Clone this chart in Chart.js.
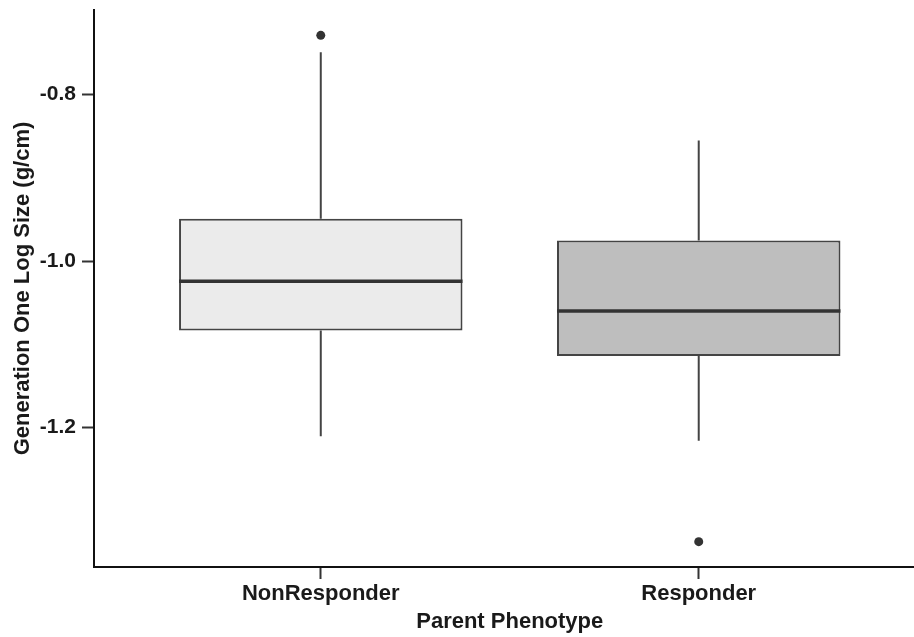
<!DOCTYPE html>
<html>
<head>
<meta charset="utf-8">
<script src="https://cdn.jsdelivr.net/npm/chart.js@4/dist/chart.umd.min.js"></script>
<style>
  html, body { margin: 0; padding: 0; background: #ffffff; overflow: hidden; width: 914px; height: 637px; }
  #wrap { width: 930px; height: 637px; }
</style>
</head>
<body>
<div id="wrap"><canvas id="c" width="930" height="637"></canvas></div>
<script>
// ---- data ----
const categories = ['NonResponder', 'Responder'];
const lowerWhisker = [-1.2108, -1.2160];
const q1 = [-1.0836, -1.1141];
const median = [-1.0243, -1.0600];
const q3 = [-0.9492, -0.9753];
const upperWhisker = [-0.7491, -0.8550];
const outliers = [[-0.7286], [-1.3375]];
const yTickValues = [-0.8, -1.0, -1.2];
const boxFills = ['#ebebeb', '#bebebe'];

// ggplot-style expansion of the scales
const allVals = [].concat(lowerWhisker, upperWhisker, ...outliers);
const dMin = Math.min(...allVals), dMax = Math.max(...allVals);
const ySpan = dMax - dMin;
const yMin = dMin - 0.05 * ySpan, yMax = dMax + 0.05 * ySpan;
const xMin = 1 - 0.6, xMax = categories.length + 0.6;

const textColor = '#1a1a1a';
const lineColor = '#444444';
const fontFamily = '"Liberation Sans", Arial, Helvetica, sans-serif';

// datasets
const boxData = categories.map((c, i) => ({ x: i + 1, y: [q1[i], q3[i]] }));
const whiskerData = [];
categories.forEach((c, i) => {
  whiskerData.push({ x: i + 1, y: q3[i] }, { x: i + 1, y: upperWhisker[i] }, { x: i + 1, y: null });
  whiskerData.push({ x: i + 1, y: q1[i] }, { x: i + 1, y: lowerWhisker[i] }, { x: i + 1, y: null });
});
const outlierData = [];
outliers.forEach((arr, i) => arr.forEach(v => outlierData.push({ x: i + 1, y: v })));

// median lines drawn across each box, using the bar elements and y scale
const medianPlugin = {
  id: 'medianPlugin',
  afterDatasetsDraw(chart) {
    const meta = chart.getDatasetMeta(0);
    const ys = chart.scales.y;
    const ctx = chart.ctx;
    ctx.save();
    ctx.strokeStyle = '#333333';
    ctx.lineWidth = 3.5;
    meta.data.forEach((bar, i) => {
      const half = bar.width / 2;
      const py = ys.getPixelForValue(median[i]);
      ctx.beginPath();
      ctx.moveTo(bar.x - half, py);
      ctx.lineTo(bar.x + half, py);
      ctx.stroke();
    });
    ctx.restore();
  }
};

new Chart(document.getElementById('c'), {
  data: {
    datasets: [
      {
        type: 'bar',
        label: 'box',
        data: boxData,
        backgroundColor: boxFills,
        borderColor: '#444444',
        borderWidth: 2,
        borderSkipped: false,
        barPercentage: 0.75,
        categoryPercentage: 1.0,
        order: 1
      },
      {
        type: 'line',
        label: 'whiskers',
        data: whiskerData,
        borderColor: lineColor,
        borderWidth: 2,
        pointRadius: 0,
        spanGaps: false,
        fill: false,
        order: 2
      },
      {
        type: 'scatter',
        label: 'outliers',
        data: outlierData,
        backgroundColor: '#333333',
        borderColor: '#333333',
        pointRadius: 4.5,
        pointBorderWidth: 0,
        order: 0
      }
    ]
  },
  options: {
    responsive: false,
    animation: false,
    devicePixelRatio: 1,
    layout: { padding: { top: 10, left: 0, right: 0, bottom: 0 } },
    plugins: { legend: { display: false }, tooltip: { enabled: false } },
    scales: {
      x: {
        type: 'linear',
        min: xMin,
        max: xMax,
        offset: false,
        afterBuildTicks(scale) { scale.ticks = categories.map((c, i) => ({ value: i + 1 })); },
        afterFit(scale) { scale.height = 70; scale.paddingLeft = 0; scale.paddingRight = 0; },
        ticks: {
          callback: (v) => categories[Math.round(v) - 1] || '',
          font: { family: fontFamily, size: 22, weight: 'bold' },
          color: textColor,
          padding: 2,
          maxRotation: 0,
          autoSkip: false
        },
        grid: { display: true, offset: false, drawOnChartArea: false, drawTicks: true, tickLength: 12, tickColor: '#333333', tickWidth: 2 },
        border: { display: true, color: '#111111', width: 2 },
        title: {
          display: true,
          text: 'Parent Phenotype',
          font: { family: fontFamily, size: 22, weight: 'bold' },
          color: textColor,
          padding: { top: 0, bottom: 2 }
        }
      },
      y: {
        type: 'linear',
        min: yMin,
        max: yMax,
        afterBuildTicks(scale) { scale.ticks = yTickValues.map(v => ({ value: v })); },
        afterFit(scale) { scale.width = 94; scale.paddingTop = 0; scale.paddingBottom = 0; },
        ticks: {
          callback: (v) => Number(v).toFixed(1),
          font: { family: fontFamily, size: 21, weight: 'bold' },
          color: textColor,
          padding: 6
        },
        grid: { display: true, drawOnChartArea: false, drawTicks: true, tickLength: 12, tickColor: '#333333', tickWidth: 2 },
        border: { display: true, color: '#111111', width: 2 },
        title: {
          display: true,
          text: 'Generation One Log Size (g/cm)',
          font: { family: fontFamily, size: 22, weight: 'bold' },
          color: textColor,
          padding: { top: 10, bottom: 0 }
        }
      }
    }
  },
  plugins: [medianPlugin]
});
</script>
</body>
</html>
